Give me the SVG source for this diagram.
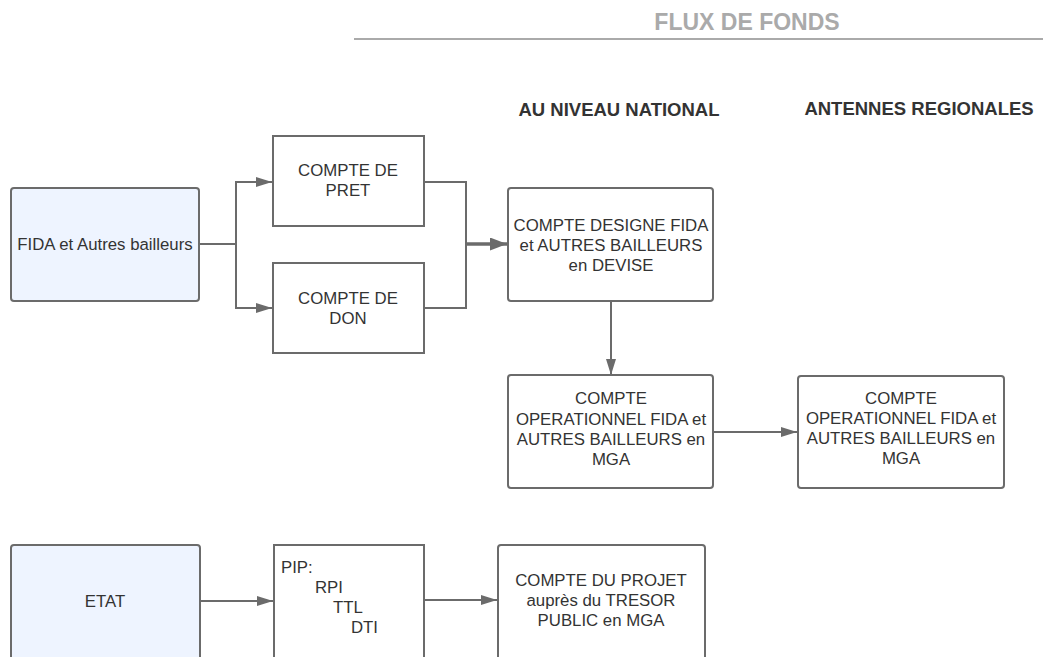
<svg xmlns="http://www.w3.org/2000/svg" width="1043" height="657" viewBox="0 0 1043 657">
<style>
.box{fill:#fff;stroke:#6b6b6b;stroke-width:2}
.src{fill:#eef4ff;stroke:#6b6b6b;stroke-width:2}
.t{font-family:"Liberation Sans",Arial,sans-serif;font-size:16.8px;fill:#333;text-anchor:middle}
.tl{font-family:"Liberation Sans",Arial,sans-serif;font-size:16.8px;fill:#333}
.h{font-family:"Liberation Sans",Arial,sans-serif;font-weight:bold;font-size:18.5px;fill:#333;text-anchor:middle}
.c{fill:none;stroke:#6b6b6b;stroke-width:2}
</style>
<defs>
<marker id="ah" viewBox="0 0 16 10" refX="16" refY="5" markerWidth="16" markerHeight="10" markerUnits="userSpaceOnUse" orient="auto">
<path d="M0,0 L16,5 L0,10 z" fill="#6b6b6b"/>
</marker>
<marker id="ahb" viewBox="0 0 17 13" refX="17" refY="6.5" markerWidth="17" markerHeight="13" markerUnits="userSpaceOnUse" orient="auto">
<path d="M0,0 L17,6.5 L0,13 z" fill="#6b6b6b"/>
</marker>
</defs>
<rect width="1043" height="657" fill="#fff"/>
<g id="header">
<text x="747" y="30" class="h" style="fill:#aaa;font-size:23px">FLUX DE FONDS</text>
<line x1="354" y1="39" x2="1043" y2="39" stroke="#aaa" stroke-width="2"/>
<text x="619" y="116" class="h">AU NIVEAU NATIONAL</text>
<text x="919" y="115" class="h">ANTENNES REGIONALES</text>
</g>
<g id="connectors">
<polyline class="c" points="199,244 236,244"/>
<polyline class="c" points="236,308 236,182 272,182" marker-end="url(#ah)"/>
<polyline class="c" points="236,244 236,308 272,308" marker-end="url(#ah)"/>
<polyline class="c" points="424,182 466,182 466,308 424,308"/>
<line x1="466" y1="244" x2="507" y2="244" stroke="#6b6b6b" stroke-width="3.5" marker-end="url(#ahb)"/>
<line class="c" x1="611" y1="301" x2="611" y2="375" marker-end="url(#ah)"/>
<line class="c" x1="713" y1="432" x2="797" y2="432" marker-end="url(#ah)"/>
<line class="c" x1="200" y1="601" x2="273" y2="601" marker-end="url(#ah)"/>
<line class="c" x1="424" y1="600" x2="497" y2="600" marker-end="url(#ah)"/>
</g>
<g id="fida">
<rect class="src" x="11" y="188" width="188" height="113" rx="3"/>
<text class="t" x="105" y="250">FIDA et Autres bailleurs</text>
</g>
<g id="pret">
<rect class="box" x="273" y="136" width="151" height="90"/>
<text class="t" x="348" y="176">COMPTE DE</text>
<text class="t" x="348" y="196">PRET</text>
</g>
<g id="don">
<rect class="box" x="273" y="263" width="151" height="90"/>
<text class="t" x="348" y="304">COMPTE DE</text>
<text class="t" x="348" y="324">DON</text>
</g>
<g id="designe">
<rect class="box" x="508" y="188" width="205" height="113" rx="3"/>
<text class="t" x="611" y="231">COMPTE DESIGNE FIDA</text>
<text class="t" x="611" y="251">et AUTRES BAILLEURS</text>
<text class="t" x="611" y="271">en DEVISE</text>
</g>
<g id="oper-national">
<rect class="box" x="508" y="375" width="205" height="113" rx="3"/>
<text class="t" x="611" y="404">COMPTE</text>
<text class="t" x="611" y="425">OPERATIONNEL FIDA et</text>
<text class="t" x="611" y="445">AUTRES BAILLEURS en</text>
<text class="t" x="611" y="465">MGA</text>
</g>
<g id="oper-regional">
<rect class="box" x="798" y="376" width="206" height="112" rx="3"/>
<text class="t" x="901" y="404">COMPTE</text>
<text class="t" x="901" y="424">OPERATIONNEL FIDA et</text>
<text class="t" x="901" y="444">AUTRES BAILLEURS en</text>
<text class="t" x="901" y="464">MGA</text>
</g>
<g id="etat">
<rect class="src" x="11" y="545" width="189" height="120" rx="3"/>
<text class="t" x="105" y="607">ETAT</text>
</g>
<g id="pip">
<rect class="box" x="274" y="545" width="150" height="120"/>
<text class="tl" x="281" y="573">PIP:</text>
<text class="tl" x="315" y="593">RPI</text>
<text class="tl" x="333" y="613">TTL</text>
<text class="tl" x="351" y="633">DTI</text>
</g>
<g id="projet">
<rect class="box" x="498" y="545" width="207" height="120" rx="3"/>
<text class="t" x="601" y="586">COMPTE  DU PROJET</text>
<text class="t" x="601" y="606">auprès du TRESOR</text>
<text class="t" x="601" y="626">PUBLIC en MGA</text>
</g>
</svg>
